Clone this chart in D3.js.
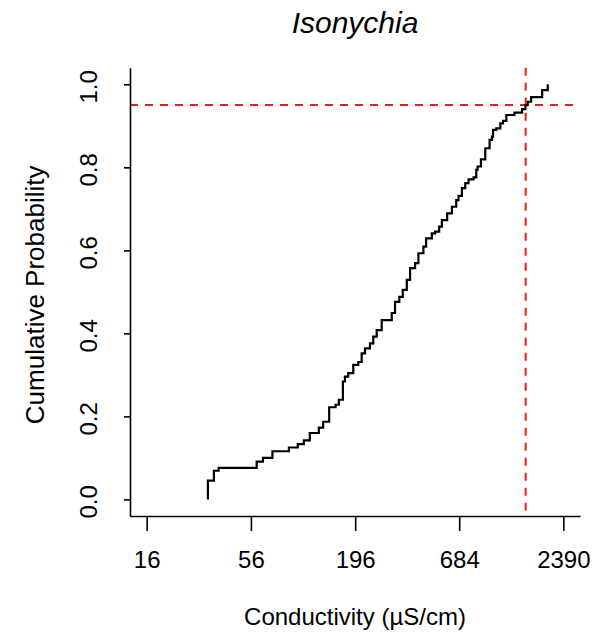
<!DOCTYPE html>
<html>
<head>
<meta charset="utf-8">
<script src="https://cdn.jsdelivr.net/npm/d3@7"></script>
<style>
  html, body { margin: 0; padding: 0; background: #fff; }
  svg { display: block; }
  text { font-family: "Liberation Sans", Arial, Helvetica, sans-serif; fill: #000; }
</style>
</head>
<body>
<svg id="chart" width="612" height="634"></svg>
<script>
// ---- data ----
const title = "Isonychia";
const xLabel = "Conductivity (\u00b5S/cm)";
const yLabel = "Cumulative Probability";
const xTicks = [16, 56, 196, 684, 2390];
const yTicks = [0, 0.2, 0.4, 0.6, 0.8, 1.0];
const conductivity = [33.4, 33.4, 35.9, 38.0, 60.0, 64.7, 72.5, 88.4, 98.3,
  105.7, 113.6, 126.6, 133.4, 143.4, 154.9, 161.1, 169.1, 173.3, 180.3,
  191.5, 203.4, 211.9, 220.5, 234.1, 243.6, 253.8, 269.6, 304.1, 316.3,
  333.1, 347.1, 364.3, 379.1, 402.5, 418.9, 444.9, 459.6, 492.3, 512.3,
  537.6, 555.4, 591.9, 626.5, 659.8, 678.3, 706.7, 735.4, 765.2, 812.7,
  839.4, 852.7, 888.3, 935.6, 985.4, 1014, 1027, 1068, 1121, 1158,
  1205, 1327, 1456, 1515, 1558, 1623, 1853, 1982];
const cumProb = [0, 0.045, 0.069, 0.076, 0.091, 0.100, 0.116, 0.125, 0.133,
  0.142, 0.160, 0.173, 0.187, 0.222, 0.228, 0.240, 0.284, 0.296, 0.304,
  0.324, 0.331, 0.352, 0.364, 0.376, 0.392, 0.408, 0.432, 0.449, 0.476,
  0.488, 0.505, 0.529, 0.557, 0.569, 0.593, 0.609, 0.629, 0.641, 0.645,
  0.657, 0.673, 0.689, 0.705, 0.721, 0.731, 0.750, 0.762, 0.771, 0.776,
  0.794, 0.802, 0.819, 0.846, 0.866, 0.874, 0.890, 0.894, 0.906, 0.912,
  0.926, 0.932, 0.940, 0.950, 0.958, 0.969, 0.986, 1.0];
const refProb = 0.95;
const refConductivity = 1520;

// ---- layout ----
const svg = d3.select("#chart");
const plot = { left: 130, right: 580, top: 67.7, bottom: 516 };

const lo = Math.log(xTicks[0]), hi = Math.log(xTicks[xTicks.length - 1]);
const pad = (hi - lo) * 0.04;
const x = d3.scaleLog()
  .domain([Math.exp(lo - pad), Math.exp(hi + pad)])
  .range([plot.left, plot.right]);
const y = d3.scaleLinear()
  .domain([-0.04, 1.04])
  .range([plot.bottom, plot.top]);

// reference lines
const refG = svg.append("g")
  .attr("stroke", "#f01c1c").attr("stroke-width", 2)
  .attr("stroke-dasharray", "8,7").attr("fill", "none");
refG.append("line")
  .attr("x1", plot.left).attr("x2", plot.right)
  .attr("y1", y(refProb)).attr("y2", y(refProb));
refG.append("line")
  .attr("x1", x(refConductivity)).attr("x2", x(refConductivity))
  .attr("y1", plot.top).attr("y2", plot.bottom);

// step curve
const pts = conductivity.map((c, i) => [c, cumProb[i]]);
svg.append("path")
  .datum(pts)
  .attr("fill", "none")
  .attr("stroke", "#000")
  .attr("stroke-width", 2.2)
  .attr("d", d3.line().x(d => x(d[0])).y(d => y(d[1])).curve(d3.curveStepAfter));

// x axis
const xAxis = svg.append("g")
  .attr("transform", `translate(0,${plot.bottom})`)
  .call(d3.axisBottom(x).tickValues(xTicks).tickFormat(d3.format("d"))
    .tickSize(15).tickSizeOuter(0).tickPadding(0));
xAxis.selectAll("path, line").attr("stroke", "#000").attr("stroke-width", 1.6);
xAxis.selectAll("text")
  .attr("y", 52).attr("dy", 0)
  .style("font-size", "24px").attr("fill", "#000");

// y axis
const yAxis = svg.append("g")
  .attr("transform", `translate(${plot.left},0)`)
  .call(d3.axisLeft(y).tickValues(yTicks).tickFormat(d3.format(".1f"))
    .tickSize(6).tickSizeOuter(0));
yAxis.selectAll("path, line").attr("stroke", "#000").attr("stroke-width", 1.6);
yAxis.selectAll("text")
  .attr("transform", "rotate(-90)")
  .attr("x", -2).attr("y", -33).attr("dy", 0)
  .attr("text-anchor", "middle")
  .style("font-size", "24px").attr("fill", "#000");

// titles
const cx = (plot.left + plot.right) / 2;
const cy = (plot.top + plot.bottom) / 2;
svg.append("text")
  .attr("x", cx).attr("y", 33)
  .attr("text-anchor", "middle")
  .style("font-size", "30px").style("font-style", "italic")
  .text(title);
svg.append("text")
  .attr("x", cx).attr("y", 625)
  .attr("text-anchor", "middle")
  .style("font-size", "24px")
  .text(xLabel);
svg.append("text")
  .attr("transform", `translate(44,${cy + 3}) rotate(-90)`)
  .attr("text-anchor", "middle")
  .style("font-size", "26px")
  .text(yLabel);
</script>
</body>
</html>
